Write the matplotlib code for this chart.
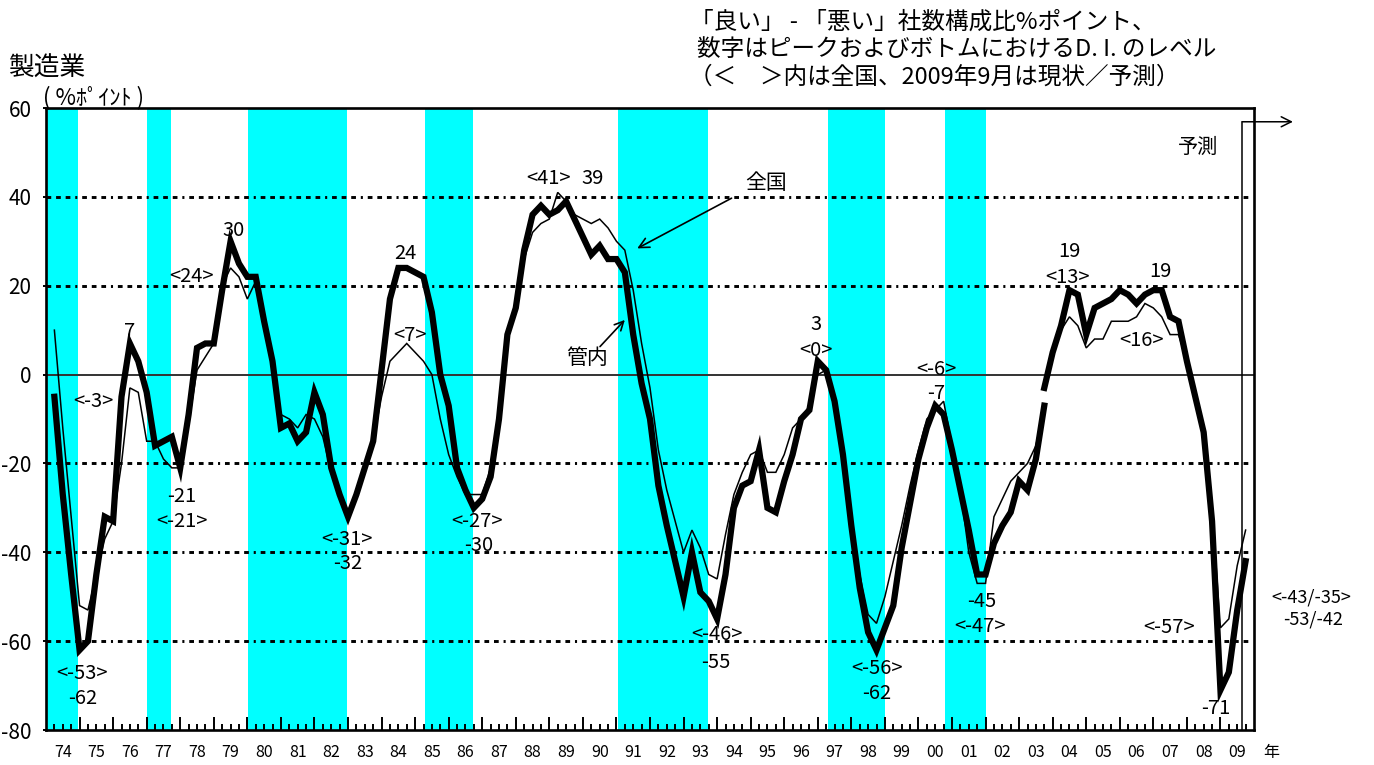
import matplotlib
matplotlib.use("Agg")
import matplotlib.pyplot as plt
import numpy as np
from matplotlib.transforms import blended_transform_factory

plt.rcParams['font.family'] = ['Noto Sans CJK JP', 'DejaVu Sans']
plt.rcParams['axes.unicode_minus'] = False
plt.rcParams['lines.scale_dashes'] = False

W, H = 1374, 765

# ---------------- data (quarterly, Q1 = Mar survey) ----------------
# old basis: 1974Q2 .. 2003Q4
old_start = 1974.25
kannai_old = [
    -5, -27, -45,
    -62, -60, -45, -32,
    -33, -5, 7, 3,
    -4, -16, -15, -14,
    -21, -9, 6, 7,
    7, 19, 30, 25,
    22, 22, 12, 3,
    -12, -11, -15, -13,
    -4, -9, -21, -27,
    -32, -27, -21, -15,
    1, 17, 24, 24,
    23, 22, 14, 0,
    -7, -21, -26, -30,
    -28, -23, -10, 9,
    15, 28, 36, 38,
    36, 37, 39, 35,
    31, 27, 29, 26,
    26, 23, 9, -2,
    -10, -25, -34, -42,
    -50, -40, -49, -51,
    -55, -45, -30, -25,
    -24, -17, -30, -31,
    -24, -18, -10, -8,
    3, 1, -6, -18,
    -34, -48, -58, -62,
    -57, -52, -39, -29,
    -19, -12, -7, -9,
    -17, -26, -35, -45,
    -45, -38, -34, -31,
    -24, -26, -19, -7,
]
zenkoku_old = [
    10, -12, -32,
    -52, -53, -45, -37,
    -33, -20, -3, -4,
    -15, -15, -19, -21,
    -21, -11, 1, 4,
    7, 20, 24, 22,
    17, 21, 12, 2,
    -9, -10, -12, -9,
    -10, -14, -22, -27,
    -31, -27, -21, -15,
    -5, 3, 5, 7,
    5, 3, 0, -10,
    -18, -23, -27, -27,
    -27, -21, -9, 8,
    15, 26, 32, 34,
    35, 41, 39, 36,
    35, 34, 35, 33,
    30, 28, 19, 7,
    -3, -17, -26, -33,
    -40, -35, -39, -45,
    -46, -36, -27, -22,
    -18, -17, -22, -22,
    -18, -12, -10, -7,
    0, 1, -5, -16,
    -33, -45, -54, -56,
    -50, -42, -34, -25,
    -17, -10, -8, -6,
    -16, -26, -40, -47,
    -47, -32, -28, -24,
    -22, -20, -16, -7,
]
# new basis: 2003Q4 .. 2009Q4 (2009Q4 = forecast)
new_start = 2003.75
kannai_new = [
    -3,
    5, 11, 19, 18,
    9, 15, 16, 17,
    19, 18, 16, 18,
    19, 19, 13, 12,
    3, -5, -13, -33,
    -71, -67, -53, -42,
]
zenkoku_new = [
    -3,
    5, 10, 13, 11,
    6, 8, 8, 12,
    12, 12, 13, 16,
    15, 13, 9, 9,
    3, -5, -13, -30,
    -57, -55, -43, -35,
]

# recession periods (shaded)
recessions = [(1974.0, 1974.96), (1977.02, 1977.72), (1980.03, 1982.97),
              (1985.29, 1986.73), (1991.05, 1993.73), (1997.29, 1999.0),
              (2000.79, 2002.01)]

years = list(range(1974, 2010))
yticks = [60, 40, 20, 0, -20, -40, -60, -80]
grid_levels = [40, 20, -20, -40, -60]

labels = [
    ("7", 1976.50, 9.7), ("<-3>", 1975.41, -6.1), ("<24>", 1978.34, 22.0),
    ("30", 1979.58, 32.5), ("-21", 1978.04, -27.5), ("<-21>", 1978.04, -33.1),
    ("<-53>", 1975.06, -67.2), ("-62", 1975.09, -72.9),
    ("<-31>", 1982.97, -37.2), ("-32", 1983.0, -42.6),
    ("24", 1984.70, 27.3), ("<7>", 1984.85, 8.9),
    ("<-27>", 1986.83, -33.1), ("-30", 1986.88, -38.4),
    ("<41>", 1988.97, 44.2), ("39", 1990.29, 44.2),
    ("3", 1996.96, 11.2), ("<0>", 1996.96, 5.5),
    ("<-46>", 1994.0, -58.4), ("-55", 1993.96, -64.8),
    ("<-56>", 1998.77, -66.1), ("-62", 1998.75, -71.7),
    ("<-6>", 2000.52, 1.2), ("-7", 2000.54, -4.2),
    ("-45", 2001.88, -51.1), ("<-47>", 2001.83, -56.7),
    ("19", 2004.51, 27.7), ("<13>", 2004.45, 21.9),
    ("19", 2007.22, 23.2), ("<16>", 2006.65, 7.6),
    ("<-57>", 2007.46, -57.0), ("-71", 2008.86, -75.1),
]

# ---------------- figure ----------------
fig = plt.figure(figsize=(W / 100, H / 100), dpi=100)
ax = fig.add_axes([46 / W, 1 - 730 / H, 1208 / W, 622 / H])
ax.set_xlim(1974, 2010)
ax.set_ylim(-80, 60)

for a, b in recessions:
    ax.axvspan(a, b, color='#00FFFF', lw=0, zorder=0)

dash = (0, (3.4, 3.5, 3.4, 3.5, 3.4, 3.5, 1.5, 3.5))
for v in grid_levels:
    ax.axhline(v, xmin=0, xmax=0.995, color='black', lw=2.1, ls=dash, zorder=1)
ax.axhline(0, color='#333333', lw=1.4, zorder=1)

x_old = old_start + np.arange(len(kannai_old)) * 0.25
x_new = new_start + np.arange(len(kannai_new)) * 0.25
for xs, ys in ((x_old, zenkoku_old), (x_new, zenkoku_new)):
    ax.plot(xs, ys, color='black', lw=1.1, zorder=3, solid_joinstyle='miter')
for xs, ys in ((x_old, kannai_old), (x_new, kannai_new)):
    ax.plot(xs, ys, color='black', lw=4.5, zorder=4, solid_joinstyle='miter')

# axes styling
for s in ax.spines.values():
    s.set_linewidth(1.9)
    s.set_color('black')
ax.set_xticks(years[1:])
ax.set_xticks([y + q / 4 for y in years for q in range(1, 4)], minor=True)
ax.tick_params(axis='x', which='major', direction='in', length=9.5, width=1.4,
               labelbottom=False)
ax.tick_params(axis='x', which='minor', direction='in', length=4.5, width=1.4)
ax.set_yticks(yticks)
ax.set_yticklabels([str(v) for v in yticks])
ax.tick_params(axis='y', direction='out', length=2.5, width=1.4, pad=8,
               labelsize=15)

trans = blended_transform_factory(ax.transData, ax.transAxes)
for y in years:
    ax.text(y + 0.5, -0.0365, f"{y % 100:02d}", transform=trans,
            ha='center', va='center', fontsize=11.5, clip_on=False)
ax.text(2010.5, -0.0365, "年", transform=trans, ha='center', va='center',
        fontsize=11.5, clip_on=False)

for t, x, y in labels:
    ax.text(x, y, t, ha='center', va='center', fontsize=14.5, zorder=6)

ax.text(1995.47, 43.1, "全国", ha='center', va='center', fontsize=15, zorder=6)
ax.annotate('', xy=(1991.62, 28.4), xytext=(1994.43, 39.7),
            arrowprops=dict(arrowstyle='->', lw=1.2, mutation_scale=18,
                            shrinkA=0, shrinkB=0), zorder=6)
ax.text(1990.11, 3.7, "管内", ha='center', va='center', fontsize=15, zorder=6)
ax.annotate('', xy=(1991.25, 12.3), xytext=(1990.51, 6.3),
            arrowprops=dict(arrowstyle='->', lw=1.2, mutation_scale=16,
                            shrinkA=0, shrinkB=0), zorder=6)

# forecast marker
fx, fy = 2009.652, 56.9
ax.plot([fx, fx], [-80, fy], color='black', lw=1.1, zorder=5, clip_on=False)
ax.annotate('', xy=(2011.16, fy), xytext=(fx, fy),
            arrowprops=dict(arrowstyle='->', lw=1.1, mutation_scale=18,
                            shrinkA=0, shrinkB=0), annotation_clip=False)
ax.text(2008.33, 51.2, "予測", ha='center', va='center', fontsize=14.5)
ax.text(2011.72, -50.2, "<-43/-35>", ha='center', va='center', fontsize=13,
        clip_on=False)
ax.text(2011.75, -55.1, "-53/-42", ha='center', va='center', fontsize=13,
        clip_on=False)

# header texts (figure pixel positions)
def ftext(px, py, s, **kw):
    fig.text(px / W, 1 - py / H, s, va='center', **kw)

ftext(8, 69, "製造業", fontsize=18.5)
ftext(43, 98, "( %ﾎﾟｲﾝﾄ )", fontsize=16)
ftext(690, 22, "「良い」 - 「悪い」社数構成比%ポイント、", fontsize=17)
ftext(697, 50, "数字はピークおよびボトムにおけるD. I. のレベル", fontsize=17)
ftext(689, 77, "（＜　＞内は全国、2009年9月は現状／予測）", fontsize=17)

fig.savefig("out.png", dpi=100)
